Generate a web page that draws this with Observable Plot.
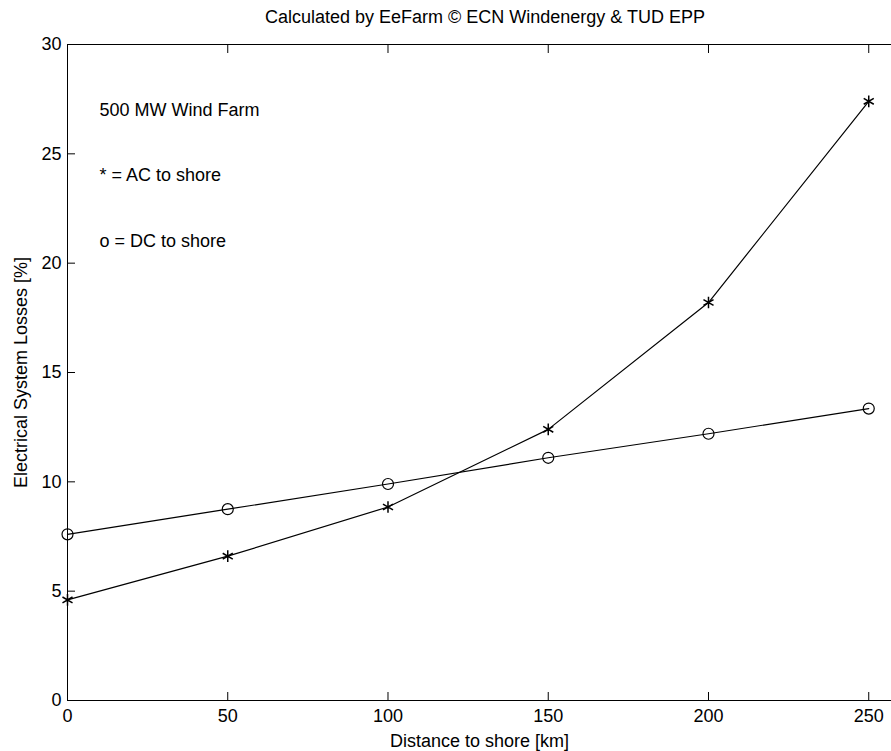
<!DOCTYPE html>
<html>
<head>
<meta charset="utf-8">
<script src="https://cdn.jsdelivr.net/npm/d3@7"></script>
<script src="https://cdn.jsdelivr.net/npm/@observablehq/plot@0.6"></script>
<style>
  html, body { margin: 0; padding: 0; background: #fff; overflow: hidden; }
  #title { height: 30px; line-height: 30px; font: 18px "Liberation Sans", Arial, Helvetica, sans-serif; color: #000; position: relative; }
  #title span { position: absolute; left: 485px; top: 7px; transform: translateX(-50%); white-space: nowrap; }
</style>
</head>
<body>
<div id="title"><span>Calculated by EeFarm © ECN Windenergy &amp; TUD EPP</span></div>
<div id="chart"></div>
<script>
const distance = [0, 50, 100, 150, 200, 250];
const acLosses = [4.6, 6.6, 8.85, 12.4, 18.2, 27.4];
const dcLosses = [7.6, 8.75, 9.9, 11.1, 12.2, 13.35];
const xTicks = [0, 50, 100, 150, 200, 250];
const yTicks = [0, 5, 10, 15, 20, 25, 30];
const noteText = ["500 MW Wind Farm", "* = AC to shore", "o = DC to shore"];
const noteX = [10, 10, 10];
const noteY = [27, 24, 21];

const ac = distance.map((d, i) => ({distance: d, loss: acLosses[i]}));
const dc = distance.map((d, i) => ({distance: d, loss: dcLosses[i]}));
const notes = noteText.map((t, i) => ({text: t, x: noteX[i], y: noteY[i]}));

const chart = Plot.plot({
  width: 891,
  height: 721,
  marginLeft: 67,
  marginRight: 0,
  marginTop: 14,
  marginBottom: 51,
  style: {fontFamily: '"Liberation Sans", Arial, Helvetica, sans-serif', fontSize: "18px", color: "#000", background: "#fff"},
  x: {domain: [0, 257.1]},
  y: {domain: [0, 30]},
  marks: [
    Plot.ruleY([0, 30], {stroke: "#000", strokeWidth: 1}),
    Plot.ruleX([0], {stroke: "#000", strokeWidth: 1}),
    Plot.axisX(xTicks, {anchor: "bottom", tickSize: -8, text: null, label: null, stroke: "#000"}),
    Plot.axisX(xTicks, {anchor: "top", tickSize: -8, text: null, label: null, stroke: "#000"}),
    Plot.axisY(yTicks, {anchor: "left", tickSize: -8, text: null, label: null, stroke: "#000"}),
    Plot.axisX(xTicks, {anchor: "bottom", tickSize: 0, tickPadding: 9, fontSize: 18, fill: "#000", label: "Distance to shore [km]", labelAnchor: "center", labelArrow: "none", labelOffset: 46}),
    Plot.axisY(yTicks, {anchor: "left", tickSize: 0, tickPadding: 6, fontSize: 18, fill: "#000", label: "Electrical System Losses [%]", labelAnchor: "center", labelArrow: "none", labelOffset: 53}),
    Plot.line(ac, {x: "distance", y: "loss", stroke: "#000", strokeWidth: 1.2}),
    Plot.line(dc, {x: "distance", y: "loss", stroke: "#000", strokeWidth: 1.2}),
    Plot.dot(ac, {x: "distance", y: "loss", symbol: "asterisk", r: 5.5, stroke: "#000", strokeWidth: 1.5}),
    Plot.dot(dc, {x: "distance", y: "loss", symbol: "circle", r: 5.5, stroke: "#000", fill: "none", strokeWidth: 1.2}),
    Plot.text(notes, {x: "x", y: "y", text: "text", textAnchor: "start", fontSize: 18, fill: "#000"})
  ]
});
document.getElementById("chart").appendChild(chart);
</script>
</body>
</html>
